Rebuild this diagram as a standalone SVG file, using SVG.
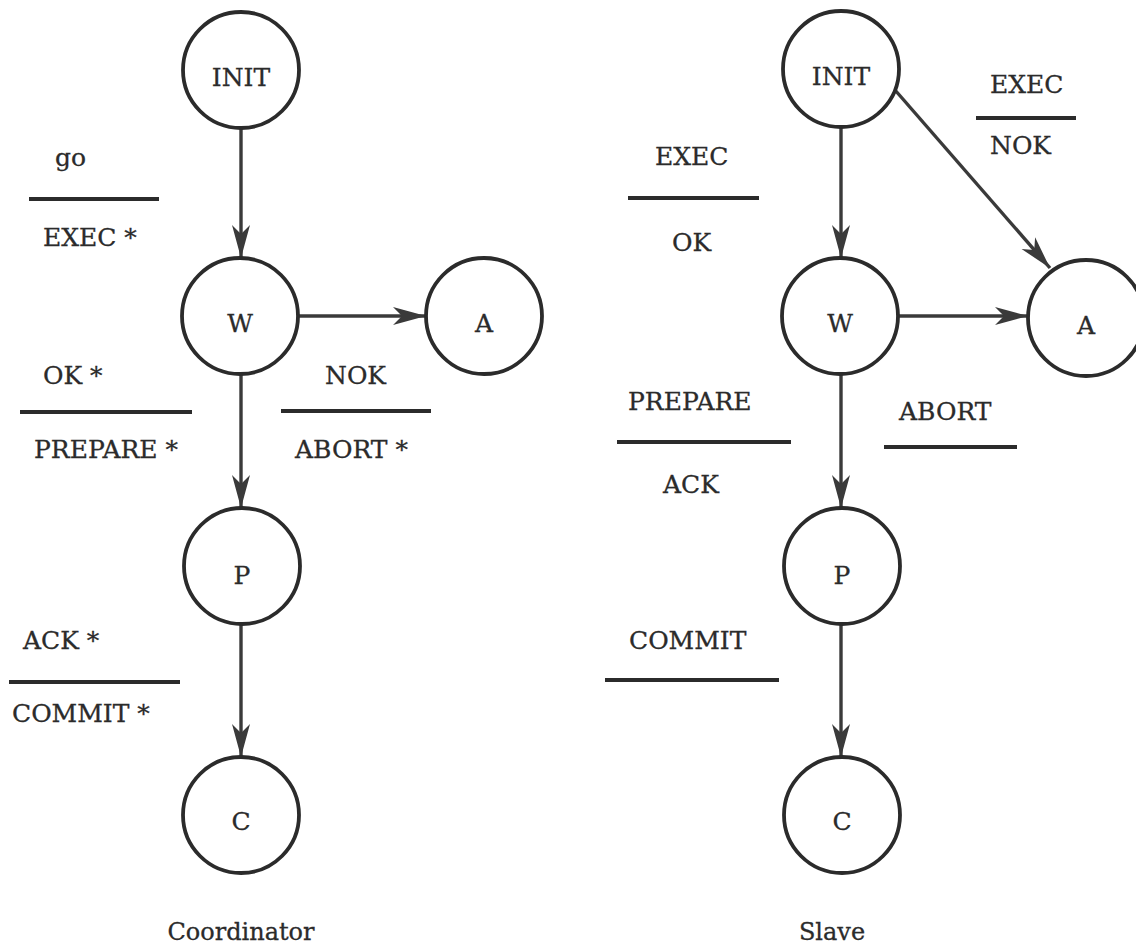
<svg xmlns="http://www.w3.org/2000/svg" width="1136" height="950" viewBox="0 0 1136 950">
<defs>
<style>
.node{fill:#fff;stroke:#2b2b2b;stroke-width:3.8}
.nt{font-family:"DejaVu Serif","Liberation Serif",serif;font-size:25px;fill:#2b2b2b;stroke:#2b2b2b;stroke-width:0.3;text-anchor:middle}
.lt{font-family:"DejaVu Serif","Liberation Serif",serif;font-size:25px;fill:#2b2b2b;stroke:#2b2b2b;stroke-width:0.3}
.cap{font-family:"DejaVu Serif","Liberation Serif",serif;font-size:24px;fill:#2b2b2b;stroke:#2b2b2b;stroke-width:0.3;text-anchor:middle}
.bar{stroke:#2b2b2b;stroke-width:4}
.edge{stroke:#3a3a3a;stroke-width:3.4;fill:none;marker-end:url(#arr)}
</style>
<marker id="arr" markerUnits="userSpaceOnUse" markerWidth="40" markerHeight="24" viewBox="-34 -12 36 24" refX="0" refY="0" orient="auto">
<path d="M0,0 L-33,-9 L-24,0 L-33,9 Z" fill="#3a3a3a"/>
</marker>
</defs>
<rect width="1136" height="950" fill="#fff"/>
<g id="connectors">
<line class="edge" x1="241" y1="128" x2="241" y2="258"/>
<line class="edge" x1="241" y1="374" x2="241" y2="508"/>
<line class="edge" x1="241" y1="624" x2="241" y2="757"/>
<line class="edge" x1="292" y1="316" x2="426" y2="316"/>
<line class="edge" x1="841" y1="127" x2="841" y2="258"/>
<line class="edge" x1="841" y1="374" x2="841" y2="508"/>
<line class="edge" x1="841" y1="624" x2="841" y2="757"/>
<line class="edge" x1="892" y1="316" x2="1028" y2="316"/>
<line class="edge" x1="895" y1="90" x2="1050" y2="268"/>
</g>
<g id="c-init"><circle class="node" cx="241" cy="70" r="58"/><text class="nt" x="241" y="86">INIT</text></g>
<g id="c-w"><circle class="node" cx="240" cy="316" r="58"/><text class="nt" x="240" y="332">W</text></g>
<g id="c-a"><circle class="node" cx="484" cy="316" r="58"/><text class="nt" x="484" y="332">A</text></g>
<g id="c-p"><circle class="node" cx="242" cy="566" r="58"/><text class="nt" x="242" y="584">P</text></g>
<g id="c-c"><circle class="node" cx="241" cy="815" r="58"/><text class="nt" x="241" y="830">C</text></g>
<g id="s-init"><circle class="node" cx="841" cy="69" r="58"/><text class="nt" x="841" y="85">INIT</text></g>
<g id="s-w"><circle class="node" cx="840" cy="316" r="58"/><text class="nt" x="840" y="332">W</text></g>
<g id="s-a"><circle class="node" cx="1086" cy="318" r="58"/><text class="nt" x="1086" y="334">A</text></g>
<g id="s-p"><circle class="node" cx="842" cy="566" r="58"/><text class="nt" x="842" y="584">P</text></g>
<g id="s-c"><circle class="node" cx="842" cy="815" r="58"/><text class="nt" x="842" y="830">C</text></g>
<g id="labels">
<text class="lt" x="55" y="166">go</text>
<line class="bar" x1="29" y1="199" x2="159" y2="199"/>
<text class="lt" x="43" y="246">EXEC *</text>
<text class="lt" x="43" y="384">OK *</text>
<line class="bar" x1="20" y1="412" x2="192" y2="412"/>
<text class="lt" x="34" y="458">PREPARE *</text>
<text class="lt" x="325" y="384">NOK</text>
<line class="bar" x1="281" y1="411" x2="431" y2="411"/>
<text class="lt" x="295" y="458">ABORT *</text>
<text class="lt" x="23" y="649">ACK *</text>
<line class="bar" x1="9" y1="682" x2="180" y2="682"/>
<text class="lt" x="12" y="722">COMMIT *</text>
<text class="cap" x="241" y="940">Coordinator</text>
<text class="lt" x="990" y="93">EXEC</text>
<line class="bar" x1="976" y1="118" x2="1076" y2="118"/>
<text class="lt" x="990" y="154">NOK</text>
<text class="lt" x="655" y="165">EXEC</text>
<line class="bar" x1="628" y1="198" x2="759" y2="198"/>
<text class="lt" x="672" y="251">OK</text>
<text class="lt" x="628" y="410">PREPARE</text>
<line class="bar" x1="617" y1="442" x2="791" y2="442"/>
<text class="lt" x="663" y="493">ACK</text>
<text class="lt" x="899" y="420">ABORT</text>
<line class="bar" x1="884" y1="447" x2="1017" y2="447"/>
<text class="lt" x="629" y="649">COMMIT</text>
<line class="bar" x1="605" y1="680" x2="779" y2="680"/>
<text class="cap" x="832" y="940">Slave</text>
</g>
</svg>
